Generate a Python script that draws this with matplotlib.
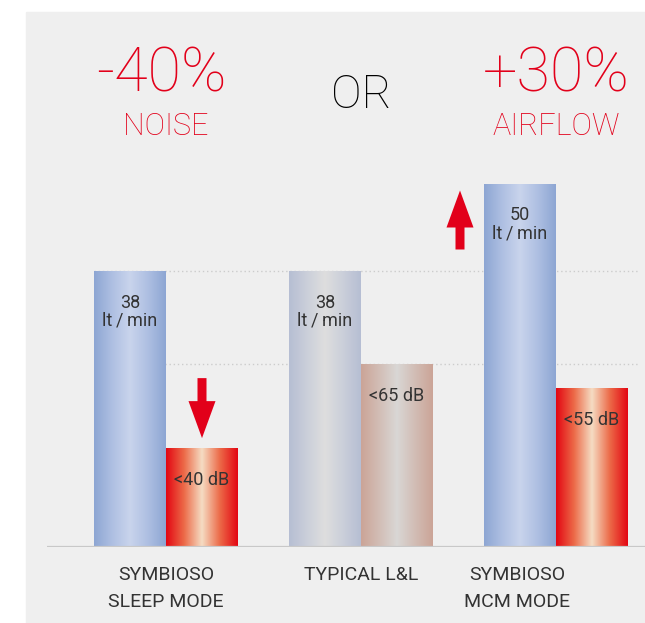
import matplotlib
matplotlib.use('Agg')
import matplotlib.pyplot as plt
import matplotlib.patches as patches
from matplotlib.colors import LinearSegmentedColormap
import numpy as np

# Data
groups = ['SYMBIOSO\nSLEEP MODE', 'TYPICAL L&L', 'SYMBIOSO\nMCM MODE']
airflow = [38, 38, 50]                 # lt/min
airflow_labels = ['38', '38', '50']
noise_heights = [13.6, 25.2, 21.9]     # bar heights as drawn (same scale)
noise_labels = ['<40 dB', '<65 dB', '<55 dB']

RED = '#e2001a'
BG = '#efefef'
TXT = '#333333'
FONT = ['Roboto', 'DejaVu Sans']

# gradients for each bar (edge -> centre -> edge)
air_cols = [['#8da6d3', '#aebfe2', '#c9d4ec', '#aebfe2', '#8da6d3'],
            ['#b6bed3', '#cbcfda', '#dedede', '#cbcfda', '#b6bed3'],
            ['#8da6d3', '#aebfe2', '#c9d4ec', '#aebfe2', '#8da6d3']]
noise_cols = [['#e30613', '#ec6a48', '#f5dcc3', '#ec6a48', '#e30613'],
              ['#cba497', '#d2bdb5', '#d9d7d5', '#d2bdb5', '#cba497'],
              ['#e30613', '#ec6a48', '#f5dcc3', '#ec6a48', '#e30613']]

W, H = 645, 623
PT = 72 / 100  # points per pixel
fig = plt.figure(figsize=(W / 100, H / 100), dpi=100)
fig.patch.set_facecolor('white')
fig.patches.append(patches.Rectangle((26 / W, 0), 1, (H - 12) / H,
                                     transform=fig.transFigure, color=BG, zorder=-1))

ax = fig.add_axes([47 / W, 76 / H, 598 / W, 535 / H])
ax.set_facecolor('none')
px_y = 7.27    # pixels per unit
px_x = 195.0   # pixels per group
xlim = (-119 / px_x, 479 / px_x)
ylim = (0, 535 / px_y)

x = np.arange(len(groups))
bw = 72 / px_x
bars_air = ax.bar(x - bw / 2, airflow, bw, color='none', zorder=3)
bars_noise = ax.bar(x + bw / 2, noise_heights, bw, color='none', zorder=3)

grad = np.linspace(0, 1, 256).reshape(1, -1)

def fill_gradient(rect, cols):
    x0, y0 = rect.get_x(), rect.get_y()
    cmap = LinearSegmentedColormap.from_list('g', cols)
    im = ax.imshow(grad, extent=[x0, x0 + rect.get_width(), y0, y0 + rect.get_height()],
                   aspect='auto', cmap=cmap, interpolation='bilinear', zorder=2)
    im.set_clip_path(rect)

for rect, cols in zip(bars_air, air_cols):
    fill_gradient(rect, cols)
for rect, cols in zip(bars_noise, noise_cols):
    fill_gradient(rect, cols)

# dotted reference lines
ax.hlines([airflow[0], noise_heights[1]], bars_air[0].get_x(), 472 / px_x,
          colors='#cccccc', linestyles=(0, (1, 2)), lw=1, zorder=1)
ax.axhline(0, color='#c8c8c8', lw=1.6, zorder=4)

# value labels inside bars
for rect, lab in zip(bars_air, airflow_labels):
    cx = rect.get_x() + rect.get_width() / 2
    top = rect.get_height()
    ax.annotate(lab, (cx, top), xytext=(0, -37 * PT), textcoords='offset points',
                ha='center', va='baseline', fontsize=13, color=TXT, family=FONT)
    ax.annotate('lt\u2009/\u2009min', (cx, top), xytext=(0, -55 * PT), textcoords='offset points',
                ha='center', va='baseline', fontsize=13, color=TXT, family=FONT)
for rect, lab in zip(bars_noise, noise_labels):
    cx = rect.get_x() + rect.get_width() / 2
    ax.annotate(lab, (cx, rect.get_height()), xytext=(0, -37 * PT), textcoords='offset points',
                ha='center', va='baseline', fontsize=13, color=TXT, family=FONT)

# category labels under the baseline, one line at a time
label_shift = [0, 0, -0.2]
for xi, g, s in zip(x, groups, label_shift):
    for i, line in enumerate(g.split('\n')):
        ax.annotate(line, (xi + s, 0), xytext=(0, -(33 + 27 * i) * PT),
                    textcoords='offset points', ha='center', va='baseline',
                    fontsize=14, color=TXT, family=FONT)

# arrows
r = bars_noise[0]
cx = r.get_x() + r.get_width() / 2
tip = r.get_height() + 10 / px_y
ln = 60 / px_y
ax.add_patch(patches.FancyArrow(cx, tip + ln, 0, -ln, width=9 / px_x, head_width=27 / px_x,
                                head_length=37 / px_y, length_includes_head=True,
                                color=RED, lw=0, zorder=5))
r = bars_air[2]
ux = r.get_x() - 24 / px_x
utip = r.get_height() - 7 / px_y
ln = 59 / px_y
ax.add_patch(patches.FancyArrow(ux, utip - ln, 0, ln, width=9 / px_x, head_width=27 / px_x,
                                head_length=37 / px_y, length_includes_head=True,
                                color=RED, lw=0, zorder=5))

# headline texts
def ypx(p):
    return (547 - p) / px_y

ax.text(-5 / px_x, ypx(92), '-40%', ha='center', va='baseline', fontsize=44,
        color=RED, family=FONT, fontweight='light')
ax.text(0, ypx(135), 'NOISE', ha='center', va='baseline', fontsize=22,
        color=RED, family=FONT, fontweight='light')
ax.text(1, ypx(108), 'OR', ha='center', va='baseline', fontsize=33,
        color='black', family=FONT, fontweight='light')
ax.text(2, ypx(92), '+30%', ha='center', va='baseline', fontsize=44,
        color=RED, family=FONT, fontweight='light')
ax.text(2, ypx(135), 'AIRFLOW', ha='center', va='baseline', fontsize=22,
        color=RED, family=FONT, fontweight='light')

ax.set_xlim(*xlim)
ax.set_ylim(*ylim)
ax.axis('off')

fig.savefig('out.png', dpi=100, facecolor=fig.get_facecolor())
